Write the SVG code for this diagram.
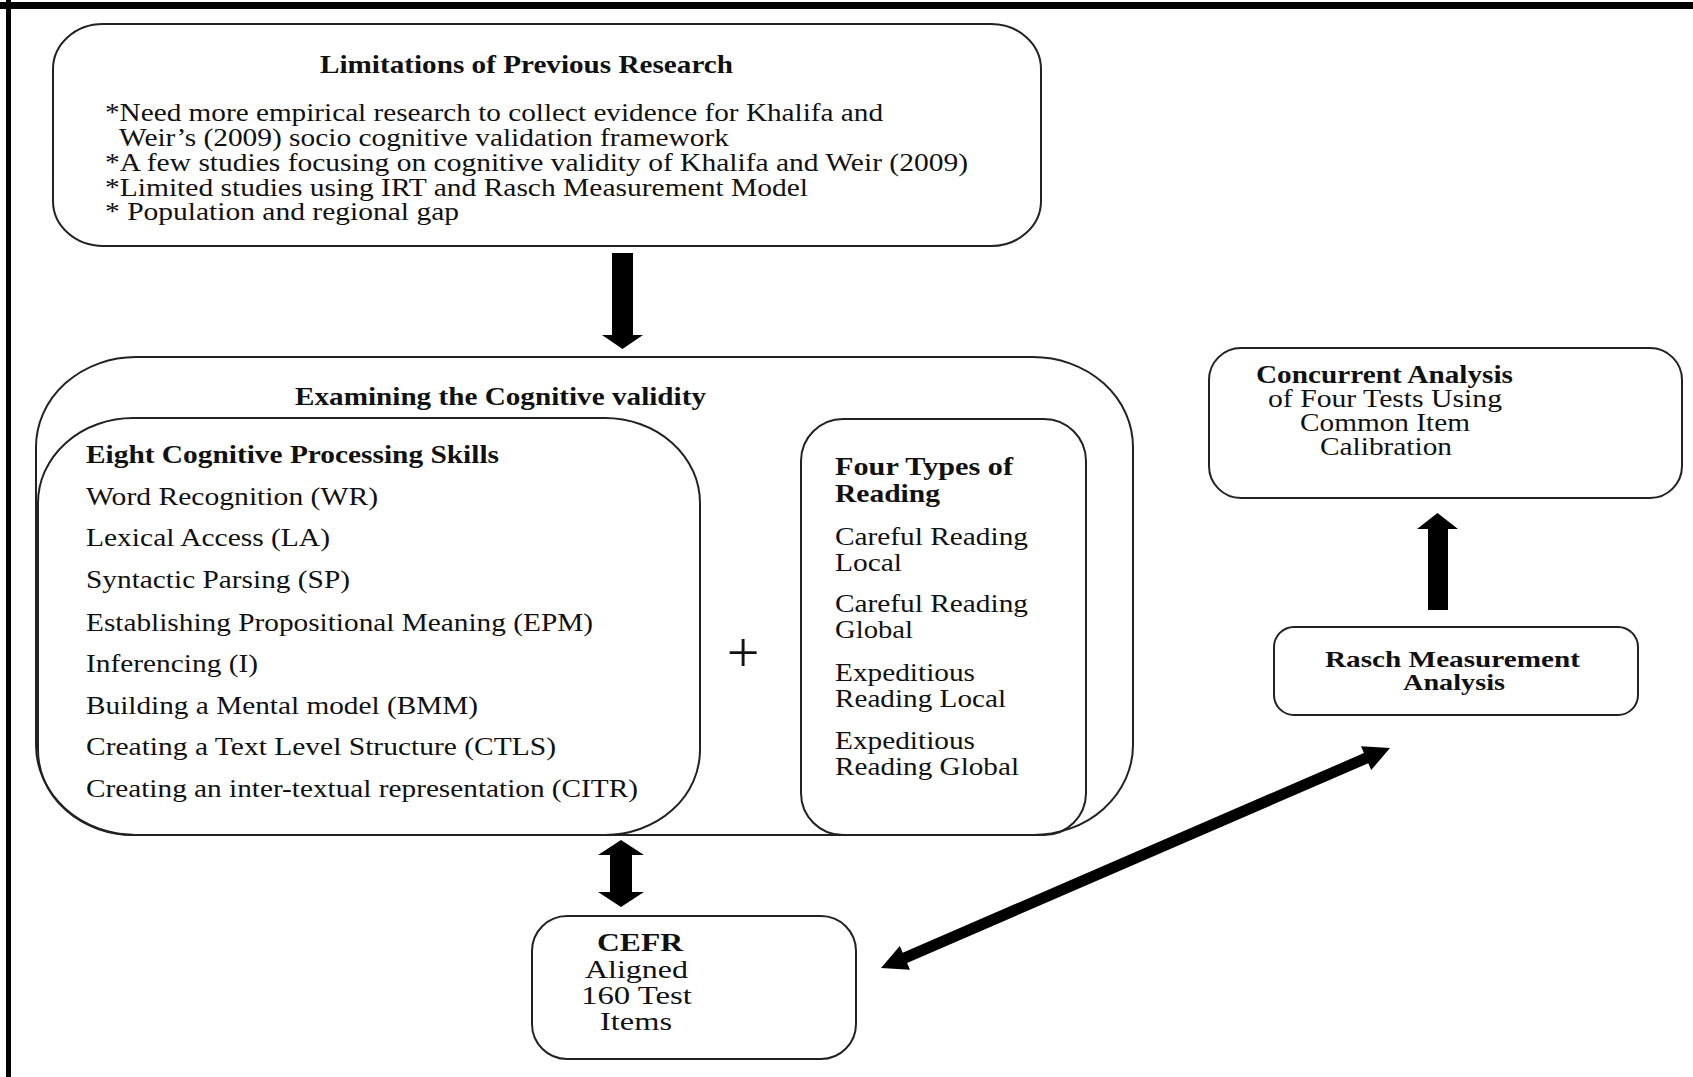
<svg xmlns="http://www.w3.org/2000/svg" width="1693" height="1077" viewBox="0 0 1693 1077">
<style>
.box{fill:none;stroke:#222;stroke-width:2}
.t{font-family:"Liberation Serif","Times New Roman",serif;font-size:25px;fill:#111}
.b{font-weight:bold}
.arr{fill:#000}
</style>
<rect x="0" y="0" width="1693" height="1077" fill="#fff"/>
<g id="frame">
<rect x="0" y="2" width="1693" height="7" fill="#000"/>
<rect x="6" y="0" width="5" height="1077" fill="#000"/>
</g>
<g id="limitations">
<rect class="box" x="53" y="24" width="988" height="222" rx="50" ry="45"/>
<text class="t b" x="320" y="73" textLength="413" lengthAdjust="spacingAndGlyphs">Limitations of Previous Research</text>
<text class="t" x="105" y="121" textLength="778" lengthAdjust="spacingAndGlyphs">*Need more empirical research to collect evidence for Khalifa and</text>
<text class="t" x="119" y="146" textLength="610" lengthAdjust="spacingAndGlyphs">Weir’s (2009) socio cognitive validation framework</text>
<text class="t" x="105" y="171" textLength="863" lengthAdjust="spacingAndGlyphs">*A few studies focusing on cognitive validity of Khalifa and Weir (2009)</text>
<text class="t" x="105" y="196" textLength="703" lengthAdjust="spacingAndGlyphs">*Limited studies using IRT and Rasch Measurement Model</text>
<text class="t" x="105" y="220" textLength="354" lengthAdjust="spacingAndGlyphs">* Population and regional gap</text>
</g>
<g id="examining">
<rect class="box" x="36" y="357" width="1097" height="478" rx="100" ry="90"/>
<text class="t b" x="295" y="405" textLength="411" lengthAdjust="spacingAndGlyphs">Examining the Cognitive validity</text>
</g>
<g id="eight-skills">
<rect class="box" x="38" y="418" width="662" height="417" rx="95" ry="85"/>
<text class="t b" x="86" y="463" textLength="413" lengthAdjust="spacingAndGlyphs">Eight Cognitive Processing Skills</text>
<text class="t" x="86" y="505" textLength="292" lengthAdjust="spacingAndGlyphs">Word Recognition (WR)</text>
<text class="t" x="86" y="546" textLength="244" lengthAdjust="spacingAndGlyphs">Lexical Access (LA)</text>
<text class="t" x="86" y="588" textLength="264" lengthAdjust="spacingAndGlyphs">Syntactic Parsing (SP)</text>
<text class="t" x="86" y="631" textLength="507" lengthAdjust="spacingAndGlyphs">Establishing Propositional Meaning (EPM)</text>
<text class="t" x="86" y="672" textLength="172" lengthAdjust="spacingAndGlyphs">Inferencing (I)</text>
<text class="t" x="86" y="714" textLength="392" lengthAdjust="spacingAndGlyphs">Building a Mental model (BMM)</text>
<text class="t" x="86" y="755" textLength="470" lengthAdjust="spacingAndGlyphs">Creating a Text Level Structure (CTLS)</text>
<text class="t" x="86" y="797" textLength="552" lengthAdjust="spacingAndGlyphs">Creating an inter-textual representation (CITR)</text>
</g>
<g id="plus">
<text class="t" x="743" y="672" text-anchor="middle" style="font-size:58px">+</text>
</g>
<g id="four-types">
<rect class="box" x="801" y="419" width="285" height="416" rx="42" ry="42"/>
<text class="t b" x="835" y="475" textLength="178" lengthAdjust="spacingAndGlyphs">Four Types of</text>
<text class="t b" x="835" y="502" textLength="105" lengthAdjust="spacingAndGlyphs">Reading</text>
<text class="t" x="835" y="545" textLength="193" lengthAdjust="spacingAndGlyphs">Careful Reading</text>
<text class="t" x="835" y="571" textLength="67" lengthAdjust="spacingAndGlyphs">Local</text>
<text class="t" x="835" y="612" textLength="193" lengthAdjust="spacingAndGlyphs">Careful Reading</text>
<text class="t" x="835" y="638" textLength="78" lengthAdjust="spacingAndGlyphs">Global</text>
<text class="t" x="835" y="681" textLength="140" lengthAdjust="spacingAndGlyphs">Expeditious</text>
<text class="t" x="835" y="707" textLength="171" lengthAdjust="spacingAndGlyphs">Reading Local</text>
<text class="t" x="835" y="749" textLength="140" lengthAdjust="spacingAndGlyphs">Expeditious</text>
<text class="t" x="835" y="775" textLength="184" lengthAdjust="spacingAndGlyphs">Reading Global</text>
</g>
<g id="concurrent">
<rect class="box" x="1209" y="348" width="473" height="150" rx="32" ry="32"/>
<text class="t b" x="1256" y="383" textLength="257" lengthAdjust="spacingAndGlyphs">Concurrent Analysis</text>
<text class="t" x="1268" y="407" textLength="234" lengthAdjust="spacingAndGlyphs">of Four Tests Using</text>
<text class="t" x="1300" y="431" textLength="170" lengthAdjust="spacingAndGlyphs">Common Item</text>
<text class="t" x="1320" y="455" textLength="132" lengthAdjust="spacingAndGlyphs">Calibration</text>
</g>
<g id="rasch">
<rect class="box" x="1274" y="627" width="364" height="88" rx="20" ry="20"/>
<text class="t b" x="1325" y="667" textLength="255" lengthAdjust="spacingAndGlyphs" style="font-size:23px">Rasch Measurement</text>
<text class="t b" x="1403" y="690" textLength="102" lengthAdjust="spacingAndGlyphs" style="font-size:23px">Analysis</text>
</g>
<g id="cefr">
<rect class="box" x="532" y="916" width="324" height="143" rx="35" ry="35"/>
<text class="t b" x="597" y="951" textLength="86" lengthAdjust="spacingAndGlyphs">CEFR</text>
<text class="t" x="585" y="978" textLength="103" lengthAdjust="spacingAndGlyphs">Aligned</text>
<text class="t" x="581" y="1004" textLength="111" lengthAdjust="spacingAndGlyphs">160 Test</text>
<text class="t" x="600" y="1030" textLength="72" lengthAdjust="spacingAndGlyphs">Items</text>
</g>
<g id="connectors">
<polygon class="arr" points="612,253 633,253 633,335 643,335 622.5,349 602,335 612,335"/>
<polygon class="arr" points="621,840 644,855 632,855 632,892 644,892 621,907 598,892 610,892 610,855 598,855"/>
<polygon class="arr" points="1437.5,513 1458,529 1448,529 1448,610 1428,610 1428,529 1417,529"/>
<polygon class="arr" points="881,968 910,969.7 907.1,962.9 1368.3,763.3 1371.2,770.1 1390,748 1361,746.3 1363.9,753.1 902.7,952.7 899.8,945.9"/>
</g>
</svg>
